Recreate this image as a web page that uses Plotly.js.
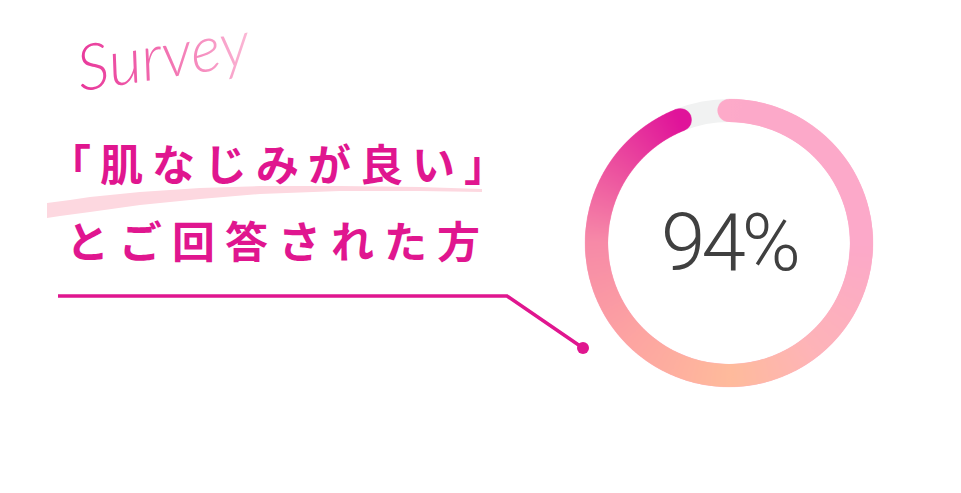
<!DOCTYPE html>
<html>
<head>
<meta charset="utf-8">
<script src="https://cdn.plot.ly/plotly-3.0.1.min.js"></script>
<style>
html, body { margin: 0; padding: 0; background: #fff; }
#chart { width: 961px; height: 493px; }
.annotation[data-index="0"] .annotation-text { fill: url(#surveyGrad) !important; }
.annotation[data-index="1"] .annotation-text { letter-spacing: 9px; }
.annotation[data-index="2"] .annotation-text { letter-spacing: 10px; }
.annotation[data-index="3"] .annotation-text { letter-spacing: -4px; }
</style>
</head>
<body>
<div id="chart"></div>
<script>
const W = 961, H = 493

// data
const labels = ['肌なじみが良い', 'その他']
const values = [94, 6]
const heading = 'Survey'
const headline = '「肌なじみが良い」'
const subline = 'とご回答された方'

const sliceColors = ['#fca9c9', '#f1f2f2']
const pink = '#e0168f'
// colour along the filled arc, 0 = 12 o'clock, 1 = end of the arc
const arcStops = [[0, '#fdaac9'], [0.27, '#fca9c9'], [0.42, '#feb4b8'], [0.53, '#ffbb9c'],
                  [0.67, '#fda4a2'], [0.8, '#f78aa8'], [0.9, '#ec4f9f'], [1, '#e0139a']]

// pixel -> paper helpers
function px(x) { return x / W }
function py(y) { return 1 - y / H }
function pathOf(pts, close) {
    var s = pts.map(function (p, i) { return (i ? 'L' : 'M') + px(p[0]) + ',' + py(p[1]) }).join(' ')
    return close ? s + ' Z' : s
}

var cx = 729, cy = 243, rad = 144, hole = 0.84

var brush = [[47, 203], [70, 200], [90, 197], [140, 192], [200, 188], [260, 186], [340, 186], [420, 187], [482, 189],
             [482, 192], [420, 191], [340, 191], [260, 194], [200, 199], [140, 205], [90, 212], [60, 216], [47, 218]]

var trace = {
    type: 'pie',
    labels: labels,
    values: values,
    hole: hole,
    sort: false,
    direction: 'clockwise',
    rotation: 0,
    textinfo: 'none',
    hoverinfo: 'none',
    marker: { colors: sliceColors, line: { width: 0 } },
    domain: { x: [px(cx - rad), px(cx + rad)], y: [py(cy + rad), py(cy - rad)] }
}

var layout = {
    width: W,
    height: H,
    margin: { l: 0, r: 0, t: 0, b: 0 },
    paper_bgcolor: '#fff',
    showlegend: false,
    shapes: [
        { type: 'path', xref: 'paper', yref: 'paper', path: pathOf(brush, true),
          fillcolor: '#fdd8e0', line: { width: 0 }, layer: 'below' },
        { type: 'path', xref: 'paper', yref: 'paper', path: pathOf([[58, 296], [507, 296], [583, 348]], false),
          line: { color: pink, width: 3.5 } },
        { type: 'circle', xref: 'paper', yref: 'paper', x0: px(577), x1: px(589), y0: py(354), y1: py(342),
          fillcolor: pink, line: { width: 0 } }
    ],
    annotations: [
        { text: heading, xref: 'paper', yref: 'paper', x: px(163), y: py(54), xanchor: 'center', yanchor: 'middle',
          showarrow: false, textangle: -9,
          font: { family: 'Lato', size: 64, weight: 300, style: 'italic', color: '#ef6aa9' } },
        { text: headline, xref: 'paper', yref: 'paper', x: px(46), y: py(162), xanchor: 'left', yanchor: 'middle',
          align: 'left', showarrow: false,
          font: { family: 'Noto Sans CJK JP', size: 43, weight: 700, color: pink } },
        { text: subline, xref: 'paper', yref: 'paper', x: px(64), y: py(239), xanchor: 'left', yanchor: 'middle',
          align: 'left', showarrow: false,
          font: { family: 'Noto Sans CJK JP', size: 43, weight: 700, color: pink } },
        { text: values[0] + '%', xref: 'paper', yref: 'paper', x: px(cx), y: py(cy), xanchor: 'center', yanchor: 'middle',
          showarrow: false,
          font: { family: 'Roboto', size: 80, weight: 300, color: '#404040' } }
    ]
}

var NS = 'http://www.w3.org/2000/svg'

function paintRing(gd) {
    var cd0 = gd.calcdata[0][0]
    var x0 = cd0.cx || cx, y0 = cd0.cy || cy, r = cd0.r || rad
    var total = values.reduce(function (a, b) { return a + b }, 0)
    var sweep = 2 * Math.PI * values[0] / total
    var gap = 2 * Math.PI - sweep
    var mid = r * (1 + hole) / 2, thick = r * (1 - hole)
    var size = Math.ceil(2 * r + 6), scale = 3
    var canvas = document.createElement('canvas')
    canvas.width = size * scale
    canvas.height = size * scale
    var ctx = canvas.getContext('2d')
    ctx.scale(scale, scale)
    var c = size / 2
    var start = -Math.PI / 2
    var grad = ctx.createConicGradient(start - gap / 2, c, c)
    grad.addColorStop(0, arcStops[0][1])
    arcStops.forEach(function (s) {
        grad.addColorStop((gap / 2 + s[0] * sweep) / (2 * Math.PI), s[1])
    })
    grad.addColorStop(1, arcStops[arcStops.length - 1][1])
    ctx.strokeStyle = grad
    ctx.lineWidth = thick
    ctx.lineCap = 'round'
    ctx.beginPath()
    ctx.arc(c, c, mid, start, start + sweep)
    ctx.stroke()

    var img = document.createElementNS(NS, 'image')
    img.setAttribute('href', canvas.toDataURL('image/png'))
    img.setAttribute('x', x0 - c)
    img.setAttribute('y', y0 - c)
    img.setAttribute('width', size)
    img.setAttribute('height', size)
    gd.querySelector('.pielayer').appendChild(img)

    // gradient for the heading
    var svg = gd.querySelector('svg.main-svg')
    var defs = svg.querySelector('defs') || svg.insertBefore(document.createElementNS(NS, 'defs'), svg.firstChild)
    var lg = document.createElementNS(NS, 'linearGradient')
    lg.setAttribute('id', 'surveyGrad')
    lg.setAttribute('x1', '0'); lg.setAttribute('x2', '1')
    lg.setAttribute('y1', '0'); lg.setAttribute('y2', '0')
    ;[['0', '#e8369a'], ['0.5', '#f270b0'], ['1', '#fbb9d6']].forEach(function (s) {
        var st = document.createElementNS(NS, 'stop')
        st.setAttribute('offset', s[0])
        st.setAttribute('stop-color', s[1])
        lg.appendChild(st)
    })
    defs.appendChild(lg)
}

Plotly.newPlot('chart', [trace], layout, { staticPlot: true, displayModeBar: false }).then(paintRing)
</script>
</body>
</html>
